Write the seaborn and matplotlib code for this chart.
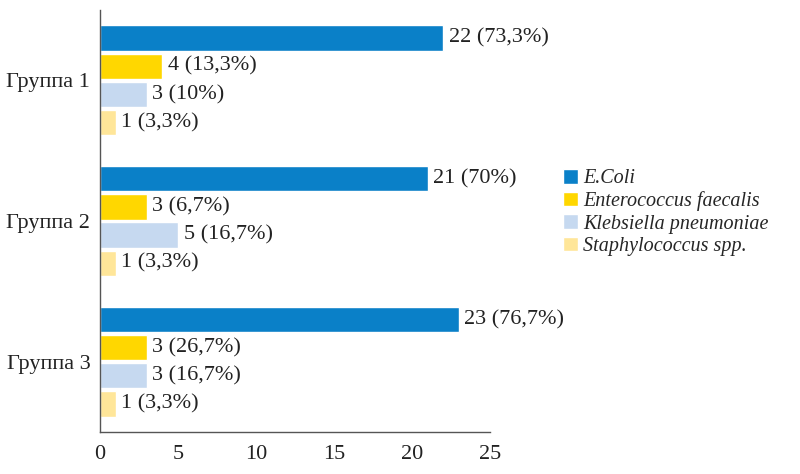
import matplotlib
matplotlib.use("Agg")
import matplotlib.pyplot as plt
import seaborn as sns
import pandas as pd

groups = ["Группа 1", "Группа 2", "Группа 3"]
species = ["E.Coli", "Enterococcus faecalis", "Klebsiella pneumoniae", "Staphylococcus spp."]
ecoli = [22, 21, 23]
entero = [4, 3, 3]
kleb = [3, 5, 3]
staph = [1, 1, 1]
ecoli_pct = ["73,3%", "70%", "76,7%"]
entero_pct = ["13,3%", "6,7%", "26,7%"]
kleb_pct = ["10%", "16,7%", "16,7%"]
staph_pct = ["3,3%", "3,3%", "3,3%"]
x_ticks = [0, 5, 10, 15, 20, 25]

colors = ["#0A80C8", "#FFD700", "#C6D9F0", "#FFE699"]

values = [ecoli, entero, kleb, staph]
pcts = [ecoli_pct, entero_pct, kleb_pct, staph_pct]
rows = []
for s, vals in zip(species, values):
    for g, v in zip(groups, vals):
        rows.append({"group": g, "species": s, "count": v})
df = pd.DataFrame(rows)

sns.set_style("white")
plt.rcParams["font.family"] = ["Liberation Serif", "DejaVu Serif"]
plt.rcParams["font.size"] = 16
FS = 16

fig = plt.figure(figsize=(8, 4.74), dpi=100)
ax = fig.add_axes([0.125, 0.0886, 0.4875, 0.8903])

sns.barplot(data=df, y="group", x="count", hue="species", order=groups,
            hue_order=species, palette=colors, orient="h", width=0.8,
            gap=0.1, saturation=1, ax=ax, legend=True)

for cont, vals, pc in zip(ax.containers, values, pcts):
    labels = [f"{v} ({p})" for v, p in zip(vals, pc)]
    ax.bar_label(cont, labels=labels, padding=4, fontsize=FS, color="#222222")

ax.set_xlim(0, 25)
ax.set_ylim(2.5, -0.5)
ax.set_xticks(x_ticks)
ax.set_xticklabels([str(t) for t in x_ticks], fontsize=FS, color="#222222")
ax.set_yticks([-0.5, 0.5, 1.5, 2.5])
ax.set_yticklabels([])
ax.set_yticks([0, 1, 2], minor=True)
ax.set_yticklabels(groups, minor=True, fontsize=FS, color="#222222")
ax.tick_params(axis="y", which="minor", length=0, pad=7)
ax.tick_params(axis="y", which="major", length=7, width=1, color="#555555", direction="out")
ax.tick_params(axis="x", length=6, width=1, color="#555555", direction="out", pad=3)
ax.set_xlabel("")
ax.set_ylabel("")
for side in ["top", "right"]:
    ax.spines[side].set_visible(False)
for side in ["left", "bottom"]:
    ax.spines[side].set_color("#555555")
    ax.spines[side].set_linewidth(1)

handles, lbls = ax.get_legend_handles_labels()
ax.legend(handles, lbls, loc="center left", bbox_to_anchor=(0.694, 0.552),
          bbox_transform=fig.transFigure, frameon=False,
          prop={"family": "Liberation Serif", "style": "italic", "size": 14.5},
          handlelength=0.75, handleheight=0.75, handletextpad=0.25,
          labelspacing=0.15, borderaxespad=0)

fig.savefig("out.png", dpi=100)
